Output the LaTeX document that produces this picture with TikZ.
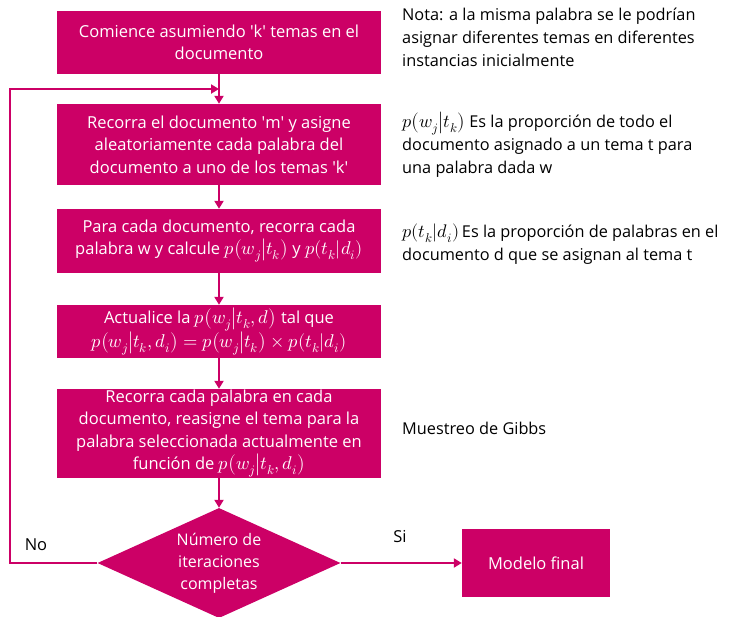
\documentclass[tikz,border=0pt]{standalone}
\usepackage{fontspec}
\usepackage{unicode-math}
\setmainfont{Open Sans}
\setmathfont{Latin Modern Math}[Scale=1.12]
\usetikzlibrary{shapes, calc, arrows.meta, positioning}
\definecolor{lda}{HTML}{CC0066}
\newcommand{\q}{\textquotesingle}
\newcommand{\pwt}{p\bigl(w_j\big|t_k\bigr)}
\begin{document}
\begin{tikzpicture}[x=1pt, y=-1pt,
    paso/.style={fill=lda, text=white, minimum width=324pt, inner sep=0pt, align=center,
        font=\fontsize{16.5}{22.5}\selectfont},
    flecha/.style={draw=lda, line width=2.6pt, -{Triangle[length=8pt,width=9pt]}},
    nota/.style={anchor=north west, align=left, inner sep=0pt, font=\fontsize{16.3}{23}\selectfont}]
    \useasboundingbox (0,0) rectangle (733,616);
    % pasos del algoritmo
    \node[paso, minimum height=63pt] (b1) at (219,42.5)
        {Comience asumiendo \q k\q{} temas en el\\documento};
    \node[paso, minimum height=81pt] (b2) at (219,144.5)
        {Recorra el documento \q m\q{} y asigne\\aleatoriamente cada palabra del\\documento a uno de los temas \q k\q};
    \node[paso, minimum height=64pt] (b3) at (219,241)
        {Para cada documento, recorra cada\\palabra w y calcule $\pwt$ y $p(t_k|d_i)$};
    \node[paso, minimum height=53pt] (b4) at (219,331.5)
        {Actualice la $p\bigl(w_j\big|t_k,d\bigr)$ tal que\\$p\bigl(w_j\big|t_k,d_i\bigr)=\pwt\times p(t_k|d_i)$};
    \node[paso, minimum height=89pt] (b5) at (219,433.5)
        {Recorra cada palabra en cada\\documento, reasigne el tema para la\\palabra seleccionada actualmente en\\funci\'on de $p\bigl(w_j\big|t_k,d_i\bigr)$};
    \node[diamond, aspect=2.2, fill=lda, text=white, minimum width=243pt, minimum height=110pt,
        inner sep=0pt, align=center, font=\fontsize{16}{22}\selectfont] (dec) at (219,563)
        {Número de\\iteraciones\\completas};
    \node[paso, minimum width=148pt, minimum height=68pt] (fin) at (536,563) {Modelo final};
    % conectores
    \foreach \a/\b in {b1/b2, b2/b3, b3/b4, b4/b5, b5/dec}
        \draw[flecha] (\a) -- (\b);
    \coordinate (ret) at (b1.south |- 0,89);
    \draw[flecha] (dec.west) -| (10,89) -- (ret);
    \draw[flecha] (dec) -- (fin);
    \node[font=\fontsize{16.5}{20}\selectfont] (no) at (36,545) {No};
    \node[font=\fontsize{16.5}{20}\selectfont] (si) at (400,537) {Si};
    % notas
    \node[nota] (n1) at (402,8)
        {Nota: a la misma palabra se le podrían\\asignar diferentes temas en diferentes\\instancias inicialmente};
    \node[nota] (n2) at (402,112)
        {$\pwt$ Es la proporción de todo el\\documento asignado a un tema t para\\una palabra dada w};
    \node[nota] (n3) at (402,224)
        {$p(t_k|d_i)$\,Es la proporción de palabras en el\\documento d que se asignan al tema t};
    \node[nota, anchor=west] (n4) at (402,428) {Muestreo de Gibbs};
\end{tikzpicture}
\end{document}
